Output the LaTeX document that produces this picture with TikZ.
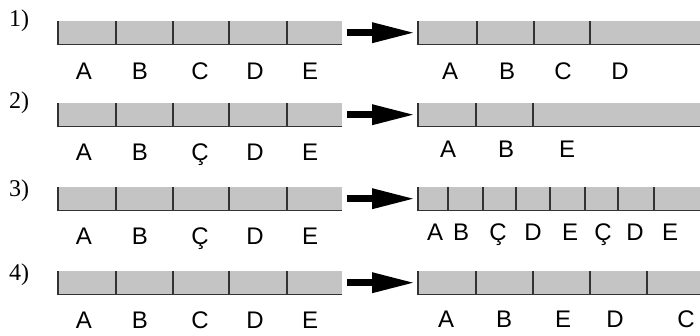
\documentclass[tikz,border=0pt]{standalone}
\usepackage{fontspec}
\setmainfont{Liberation Serif}
\setsansfont{Liberation Sans}
\usetikzlibrary{positioning, arrows.meta}

\begin{document}
\begin{tikzpicture}[
    x=1pt, y=-1pt,
    bar/.style={rectangle, fill=black!23, inner sep=0pt, anchor=north west, minimum height=23pt},
    cell/.style={draw=black!80, line width=1.6pt},
    letter/.style={font=\fontsize{24}{24}\selectfont\sffamily, inner sep=0pt, anchor=base},
    num/.style={font=\fontsize{24}{24}\selectfont\rmfamily, inner sep=0pt, anchor=base west},
    move/.style={line width=6.5pt, -{Triangle[length=43pt, width=19pt]}, shorten <=5pt, shorten >=3pt},
]
\useasboundingbox (0,0) rectangle (700,335);

% Row numbers
\node [num] (n1) at (9,26) {1)};
\node [num] (n2) at (9,108) {2)};
\node [num] (n3) at (9,196) {3)};
\node [num] (n4) at (9,280) {4)};

% Bars
\node [bar, minimum width=284pt] (L1) at (58,21) {};
\node [bar, minimum width=282pt] (R1) at (418,21) {};
\node [bar, minimum width=284pt] (L2) at (58,103) {};
\node [bar, minimum width=282pt] (R2) at (418,103) {};
\node [bar, minimum width=284pt] (L3) at (58,187) {};
\node [bar, minimum width=282pt] (R3) at (418,187) {};
\node [bar, minimum width=284pt] (L4) at (58,271) {};
\node [bar, minimum width=282pt] (R4) at (418,271) {};

% Cell borders
\foreach \b in {L1,L2,L3,L4,R1,R2,R3,R4}
    \draw [cell] (\b.north west) -- (\b.south west) -- (\b.south east);
\foreach \b in {L1,L2,L3,L4}
    \foreach \d in {58,115,171,229}
        \draw [cell] ([xshift=\d pt]\b.north west) -- ([xshift=\d pt]\b.south west);
\foreach \d in {59,116,172}
    \draw [cell] ([xshift=\d pt]R1.north west) -- ([xshift=\d pt]R1.south west);
\foreach \d in {58,115}
    \draw [cell] ([xshift=\d pt]R2.north west) -- ([xshift=\d pt]R2.south west);
\foreach \d in {30,65,98,132,167,200,236}
    \draw [cell] ([xshift=\d pt]R3.north west) -- ([xshift=\d pt]R3.south west);
\foreach \d in {58,115,172,229}
    \draw [cell] ([xshift=\d pt]R4.north west) -- ([xshift=\d pt]R4.south west);

% Letters
\foreach \t/\x [count=\i] in {A/84,B/140,C/200,D/255,E/310}
    \node [letter] (l1-\i) at (\x,79) {\t};
\foreach \t/\x [count=\i] in {A/84,B/140,Ç/200,D/255,E/310}
    \node [letter] (l2-\i) at (\x,160) {\t};
\foreach \t/\x [count=\i] in {A/84,B/140,Ç/200,D/255,E/310}
    \node [letter] (l3-\i) at (\x,244) {\t};
\foreach \t/\x [count=\i] in {A/84,B/140,C/200,D/255,E/310}
    \node [letter] (l4-\i) at (\x,328) {\t};
\foreach \t/\x [count=\i] in {A/450,B/507,C/563,D/620}
    \node [letter] (r1-\i) at (\x,79) {\t};
\foreach \t/\x [count=\i] in {A/448,B/506,E/567}
    \node [letter] (r2-\i) at (\x,157) {\t};
\foreach \t/\x [count=\i] in {A/435,B/461,Ç/498,D/533,E/570,Ç/603,D/635,E/670}
    \node [letter] (r3-\i) at (\x,240) {\t};
\foreach \t/\x [count=\i] in {A/446,B/504,E/563,D/615,C/686}
    \node [letter] (r4-\i) at (\x,327) {\t};

% Arrows
\draw [move] (L1) -- (R1);
\draw [move] (L2) -- (R2);
\draw [move] (L3) -- (R3);
\draw [move] (L4) -- (R4);

\end{tikzpicture}
\end{document}
